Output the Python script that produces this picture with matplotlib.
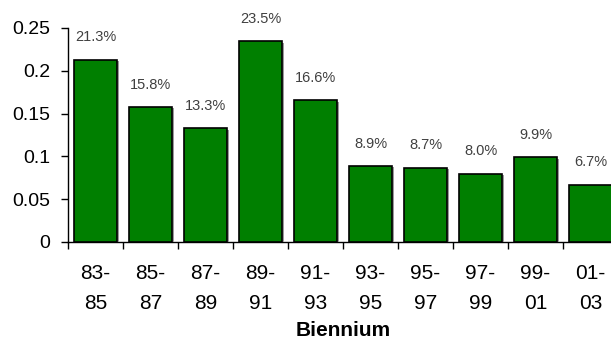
import matplotlib
matplotlib.use("Agg")
import matplotlib.pyplot as plt
import matplotlib.patheffects as pe

plt.rcParams['font.family'] = ['Liberation Sans', 'DejaVu Sans']

# share of each biennium
periods = ["83-\n85", "85-\n87", "87-\n89", "89-\n91", "91-\n93",
           "93-\n95", "95-\n97", "97-\n99", "99-\n01", "01-\n03"]
shares = [0.213, 0.158, 0.133, 0.235, 0.166, 0.089, 0.087, 0.080, 0.099, 0.067]
yticks = [0, 0.05, 0.1, 0.15, 0.2, 0.25]
ytick_labels = ["0", "0.05", "0.1", "0.15", "0.2", "0.25"]

fig = plt.figure(figsize=(6.11, 3.41), dpi=100)
ax = fig.add_axes([68 / 611, 99 / 341, 550 / 611, 214 / 341])

x = list(range(len(shares)))
bars = ax.bar(x, shares, width=0.78, color="#007f00", edgecolor="black",
              linewidth=1.2, zorder=3)
for b in bars:
    b.set_path_effects([pe.SimplePatchShadow(offset=(1.2, -1.2), shadow_rgbFace="#9a9a9a", alpha=1),
                        pe.Normal()])

# value labels above the bars
for xi, v in zip(x, shares):
    ax.annotate(f"{v * 100:.1f}%", (xi, v), xytext=(0, 16), textcoords="offset points",
                ha="center", va="center", fontsize=10.5, color="#404040")

ax.set_xlim(-0.5, len(shares) - 0.5)
ax.set_ylim(0, 0.25)
ax.set_yticks(yticks)
ax.set_yticklabels(ytick_labels, fontsize=14)

# tick marks sit between categories, labels under the bars
ax.set_xticks([i - 0.5 for i in range(len(shares) + 1)])
ax.set_xticklabels([])
ax.set_xticks(x, minor=True)
ax.set_xticklabels(periods, minor=True, fontsize=15, linespacing=1.75)
ax.tick_params(axis="x", which="minor", length=0, pad=15.5)
ax.tick_params(axis="x", which="major", length=5, width=1, direction="out")
ax.tick_params(axis="y", length=5, width=1, direction="out", pad=8)

ax.set_xlabel("Biennium", fontsize=15, fontweight="bold", labelpad=6)

for s in ("top", "right"):
    ax.spines[s].set_visible(False)
for s in ("left", "bottom"):
    ax.spines[s].set_linewidth(1)

fig.savefig("out.png", dpi=100)
